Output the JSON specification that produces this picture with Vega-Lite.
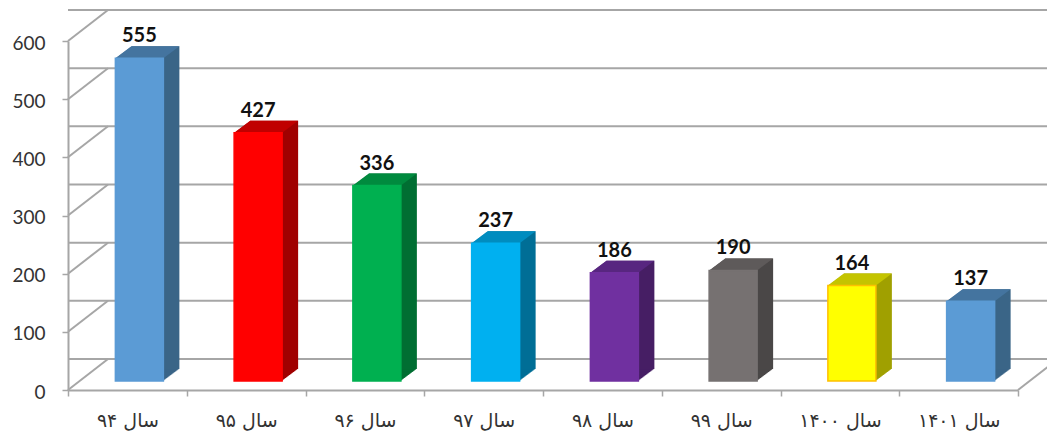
{"$schema":"https://vega.github.io/schema/vega-lite/v6.json","width":950,"height":349,"autosize":{"type":"none"},"padding":{"left":68,"right":29,"top":41,"bottom":44},"background":"white","datasets":{"bars":[{"year":"سال ۹۴","value":555},{"year":"سال ۹۵","value":427},{"year":"سال ۹۶","value":336},{"year":"سال ۹۷","value":237},{"year":"سال ۹۸","value":186},{"year":"سال ۹۹","value":190},{"year":"سال ۱۴۰۰","value":164},{"year":"سال ۱۴۰۱","value":137}],"grid":[{"tick":0},{"tick":100},{"tick":200},{"tick":300},{"tick":400},{"tick":500},{"tick":600}]},"config":{"view":{"stroke":null}},"resolve":{"scale":{"color":"independent","stroke":"independent"}},"layer":[
{"data":{"name":"grid"},"encoding":{"y":{"field":"tick","type":"quantitative","scale":{"domain":[0,600],"nice":false},"axis":{"values":[0,100,200,300,400,500,600],"title":null,"grid":false,"domainColor":"#A6A6A6","domainWidth":2,"tickColor":"#A6A6A6","tickWidth":1.5,"tickSize":6,"labelFont":"Lato","labelFontSize":19,"labelColor":"#333333","labelPadding":17,"labelOverlap":false,"labelBaseline":"middle","labelOffset":2}}},"layer":[
{"mark":{"type":"rule","color":"#A6A6A6","strokeWidth":2,"xOffset":40,"yOffset":-31}},
{"mark":{"type":"point","shape":"M0 0L.4 -.31","size":40000,"filled":false,"stroke":"#A6A6A6","strokeWidth":2,"opacity":1},"encoding":{"x":{"datum":"سال ۹۴","type":"nominal","bandPosition":0,"title":null,"scale":{"type":"band","domain":["سال ۹۴","سال ۹۵","سال ۹۶","سال ۹۷","سال ۹۸","سال ۹۹","سال ۱۴۰۰","سال ۱۴۰۱"],"paddingInner":0,"paddingOuter":0},"axis":{"title":null,"domainColor":"#A6A6A6","domainWidth":2,"tickColor":"#A6A6A6","tickWidth":1.5,"tickSize":6,"tickBand":"extent","labelAngle":0,"labelFont":"DejaVu Sans","labelFontSize":19,"labelColor":"#333333","labelPadding":15}}}}
]},
{"data":{"values":[{"tick":0}]},"mark":{"type":"point","shape":"M0 0L.4 -.31","size":40000,"filled":false,"stroke":"#A6A6A6","strokeWidth":2,"opacity":1},"encoding":{"x":{"datum":"سال ۱۴۰۱","type":"nominal","bandPosition":1},"y":{"field":"tick","type":"quantitative"}}},
{"data":{"name":"bars"},"encoding":{"x":{"field":"year","type":"nominal","sort":null},"y":{"field":"value","type":"quantitative"},"color":{"field":"year","type":"nominal","legend":null,"scale":{"domain":["سال ۹۴","سال ۹۵","سال ۹۶","سال ۹۷","سال ۹۸","سال ۹۹","سال ۱۴۰۰","سال ۱۴۰۱"],"range":["#3A6587","#A00000","#006E32","#006E96","#461E64","#4A4747","#A0A000","#3A6587"]}}},"layer":[
{"mark":{"type":"bar","width":48,"xOffset":13,"yOffset":-9.75,"opacity":1}},
{"mark":{"type":"bar","width":48,"xOffset":14,"yOffset":-10.5,"opacity":1}},
{"mark":{"type":"bar","width":48,"xOffset":15,"yOffset":-11.25,"opacity":1}},
{"mark":{"type":"bar","width":48,"xOffset":16,"yOffset":-12,"opacity":1}},
{"mark":{"type":"bar","width":48,"xOffset":17,"yOffset":-12.75,"opacity":1}},
{"mark":{"type":"bar","width":48,"xOffset":18,"yOffset":-13.5,"opacity":1}},
{"mark":{"type":"bar","width":48,"xOffset":19,"yOffset":-14.25,"opacity":1}},
{"mark":{"type":"bar","width":48,"xOffset":20,"yOffset":-15,"opacity":1}},
{"mark":{"type":"bar","width":48,"xOffset":21,"yOffset":-15.75,"opacity":1}},
{"mark":{"type":"bar","width":48,"xOffset":22,"yOffset":-16.5,"opacity":1}},
{"mark":{"type":"bar","width":48,"xOffset":23,"yOffset":-17.25,"opacity":1}},
{"mark":{"type":"bar","width":48,"xOffset":24,"yOffset":-18,"opacity":1}},
{"mark":{"type":"bar","width":48,"xOffset":25,"yOffset":-18.75,"opacity":1}},
{"mark":{"type":"bar","width":48,"xOffset":26,"yOffset":-19.5,"opacity":1}},
{"mark":{"type":"bar","width":48,"xOffset":27,"yOffset":-20.25,"opacity":1}},
{"mark":{"type":"bar","width":48,"xOffset":28,"yOffset":-21,"opacity":1}}
]},
{"data":{"name":"bars"},"mark":{"type":"point","shape":"M-.24 0L.24 0L.4 -.12L-.08 -.12Z","size":40000,"filled":true,"opacity":1,"xOffset":12,"yOffset":-9},"encoding":{"x":{"field":"year","type":"nominal","sort":null},"y":{"field":"value","type":"quantitative"},"color":{"field":"year","type":"nominal","legend":null,"scale":{"domain":["سال ۹۴","سال ۹۵","سال ۹۶","سال ۹۷","سال ۹۸","سال ۹۹","سال ۱۴۰۰","سال ۱۴۰۱"],"range":["#44749F","#C00000","#008A3E","#008CBF","#582680","#5E5A5A","#C4C400","#44749F"]}}}},
{"data":{"name":"bars"},"mark":{"type":"bar","width":48,"xOffset":12,"yOffset":-9,"opacity":1,"strokeWidth":1.5},"encoding":{"x":{"field":"year","type":"nominal","sort":null},"y":{"field":"value","type":"quantitative"},"color":{"field":"year","type":"nominal","legend":null,"scale":{"domain":["سال ۹۴","سال ۹۵","سال ۹۶","سال ۹۷","سال ۹۸","سال ۹۹","سال ۱۴۰۰","سال ۱۴۰۱"],"range":["#5B9BD5","#FF0000","#00B050","#00B0F0","#7030A0","#767171","#FFFF00","#5B9BD5"]}},"stroke":{"field":"year","type":"nominal","legend":null,"scale":{"domain":["سال ۹۴","سال ۹۵","سال ۹۶","سال ۹۷","سال ۹۸","سال ۹۹","سال ۱۴۰۰","سال ۱۴۰۱"],"range":["#5B9BD5","#FF0000","#00B050","#00B0F0","#7030A0","#767171","#FFC000","#5B9BD5"]}}}},
{"data":{"name":"bars"},"mark":{"type":"text","font":"Lato","fontWeight":"bold","fontSize":20,"color":"#111111","baseline":"alphabetic","xOffset":12,"yOffset":-25},"encoding":{"x":{"field":"year","type":"nominal","sort":null},"y":{"field":"value","type":"quantitative"},"text":{"field":"value","type":"quantitative"}}}
]}
